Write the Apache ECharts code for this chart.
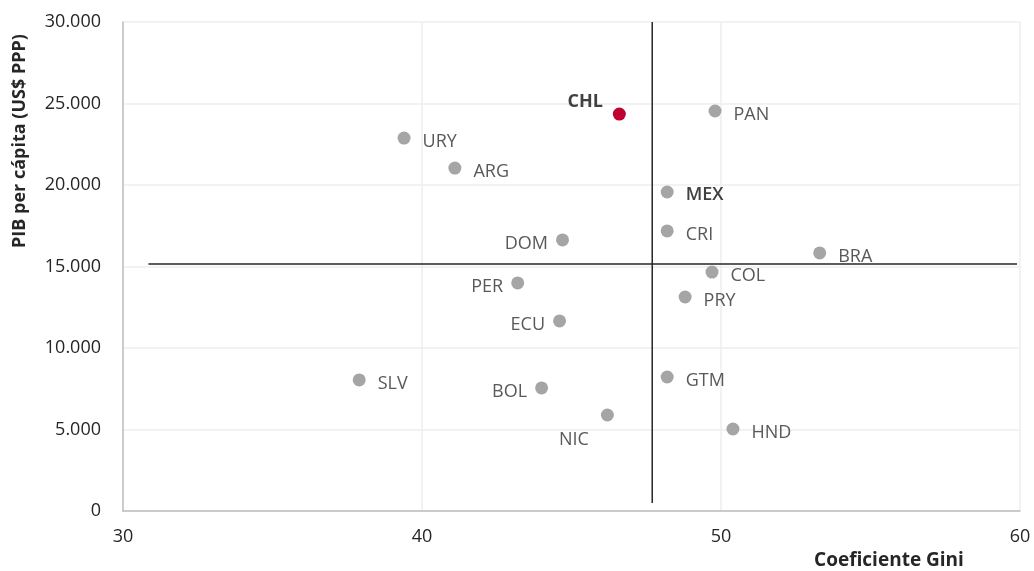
<!DOCTYPE html>
<html>
<head>
<meta charset="utf-8">
<script src="https://cdn.jsdelivr.net/npm/echarts@6/dist/echarts.min.js"></script>
<style>
  html, body { margin: 0; padding: 0; background: #fff; }
  #chart { width: 1034px; height: 571px; }
</style>
</head>
<body>
<div id="chart"></div>
<script>
// datos
const countries = ['CHL', 'PAN', 'URY', 'ARG', 'MEX', 'DOM', 'CRI', 'BRA', 'COL', 'PER', 'PRY', 'ECU', 'SLV', 'BOL', 'GTM', 'NIC', 'HND'];
const gini = [46.6, 49.8, 39.4, 41.1, 48.2, 44.7, 48.2, 53.3, 49.7, 43.2, 48.8, 44.6, 37.9, 44.0, 48.2, 46.2, 50.4];
const pib = [24350, 24540, 22880, 21040, 19570, 16630, 17180, 15830, 14660, 13990, 13130, 11660, 8040, 7550, 8220, 5890, 5030];
const avgGini = 47.7;
const avgPib = 15150;
const giniLine = [30.85, 59.9];   // extremos de la linea horizontal
const pibLine = [490, 30000];     // extremos de la linea vertical
const xTicks = [30, 40, 50, 60];
const yTicks = [0, 5000, 10000, 15000, 20000, 25000, 30000];

const fontFam = '"Open Sans", "Noto Sans", sans-serif';

// donde va cada etiqueta
const labelLeft = ['DOM', 'PER', 'ECU', 'BOL'];

const points = countries.map(function (c, i) {
  let item = { name: c, value: [gini[i], pib[i]] };
  if (c === 'CHL') {
    item.itemStyle = { color: '#c00030' };
    item.label = { position: 'left', distance: 10, offset: [0, -12], fontWeight: 'bold', color: '#404040' };
  } else if (c === 'MEX') {
    item.label = { fontWeight: 600, color: '#404040', offset: [0, 3] };
  } else if (c === 'NIC') {
    item.label = { position: 'left', distance: 6, offset: [-6, 25] };
  } else if (labelLeft.indexOf(c) >= 0) {
    item.label = { position: 'left', distance: 8, offset: [0, 4] };
  }
  return item;
});

let chart = echarts.init(document.getElementById('chart'));
chart.setOption({
  animation: false,
  grid: { left: 123, right: 14, top: 22, bottom: 60 },
  xAxis: {
    type: 'value',
    min: xTicks[0],
    max: xTicks[xTicks.length - 1],
    interval: 10,
    axisLine: { show: true, lineStyle: { color: '#bfbfbf', width: 1.5 } },
    axisTick: { show: false },
    axisLabel: { color: '#262626', fontSize: 18, fontFamily: fontFam, margin: 17 },
    splitLine: { lineStyle: { color: '#eeeeee', width: 1.5 } }
  },
  yAxis: {
    type: 'value',
    min: yTicks[0],
    max: yTicks[yTicks.length - 1],
    interval: 5000,
    axisLine: { show: true, lineStyle: { color: '#bfbfbf', width: 1.5 } },
    axisTick: { show: false },
    axisLabel: {
      color: '#262626', fontSize: 18, fontFamily: fontFam, margin: 22,
      formatter: function (v) { return v.toString().replace(/\B(?=(\d{3})+(?!\d))/g, '.'); }
    },
    splitLine: { lineStyle: { color: '#eeeeee', width: 1.5 } }
  },
  graphic: [
    {
      type: 'text', x: 20, y: 141, rotation: Math.PI / 2,
      style: { text: 'PIB per cápita (US$ PPP)', font: 'bold 18px ' + fontFam, fill: '#262626', align: 'center', verticalAlign: 'middle' }
    },
    {
      type: 'text', x: 889, y: 561,
      style: { text: 'Coeficiente Gini', font: 'bold 19px ' + fontFam, fill: '#262626', align: 'center', verticalAlign: 'middle' }
    }
  ],
  series: [
    {
      type: 'line',
      data: [[giniLine[0], avgPib], [giniLine[1], avgPib]],
      symbol: 'none',
      lineStyle: { color: '#262626', width: 1.5 },
      z: 1
    },
    {
      type: 'line',
      data: [[avgGini, pibLine[0]], [avgGini, pibLine[1]]],
      symbol: 'none',
      lineStyle: { color: '#262626', width: 1.5 },
      z: 1
    },
    {
      type: 'scatter',
      data: points,
      symbolSize: 13,
      itemStyle: { color: '#a5a5a5', opacity: 1 },
      label: {
        show: true,
        position: 'right',
        distance: 12,
        offset: [0, 4],
        formatter: '{b}',
        color: '#595959',
        fontSize: 18,
        fontFamily: fontFam
      },
      z: 3
    }
  ]
});
</script>
</body>
</html>
